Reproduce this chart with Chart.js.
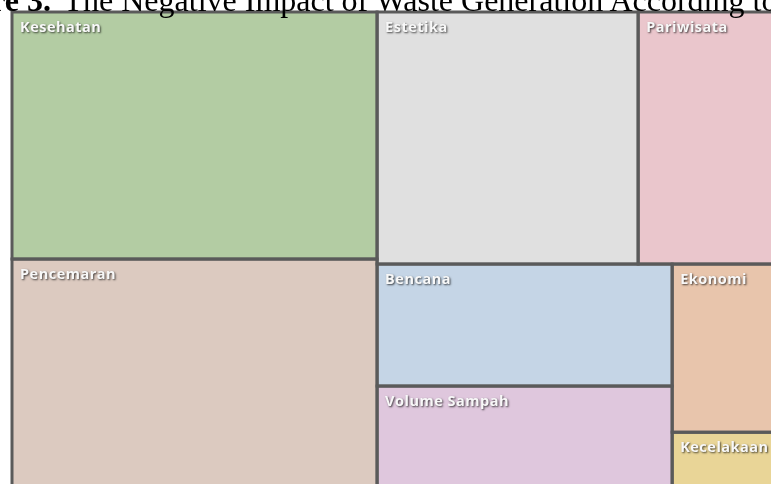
<!DOCTYPE html>
<html>
<head>
<meta charset="utf-8">
<script src="https://cdn.jsdelivr.net/npm/chart.js@4.4.1/dist/chart.umd.min.js"></script>
<style>
  html, body { margin: 0; padding: 0; background: #ffffff; overflow: hidden; width: 771px; height: 484px; }
  #wrap { position: absolute; left: 0; top: 0; width: 830px; height: 530px; }
  #caption {
    position: absolute; top: -16px; left: 0; white-space: nowrap;
    font-family: "Liberation Serif", "Times New Roman", serif; font-size: 32px; line-height: 32px;
    color: #000000; pointer-events: none;
  }
  #caption b { margin-right: 5px; }
</style>
</head>
<body>
<div id="wrap"><canvas id="chart"></canvas></div>
<div id="caption"><b>Figure 3.</b> <span id="capMain">The Negative Impact of Waste Generation According to</span></div>
<script>
/* data (relative tile sizes) */
const categories   = ['Kesehatan', 'Pencemaran', 'Estetika', 'Pariwisata', 'Bencana', 'Volume Sampah', 'Ekonomi', 'Kecelakaan'];
const impactValues = [90.2, 89.8, 65.8, 40.8, 36.0, 35.1, 21.5, 9.3];

/* tile colours */
const tileColors = ['#b3cca3', '#dccac0', '#e0e0e0', '#eac6cc', '#c5d5e6', '#dfc7dd', '#e8c5ac', '#e9d597'];

// place caption so "The" lands where it does in the picture
const cap = document.getElementById('caption');
cap.style.left = (63 - document.getElementById('capMain').offsetLeft) + 'px';

/* squarified layout (golden ratio variant), rects in fractions of the area */
function squarify(values, width, height) {
    const ratio = (1 + Math.sqrt(5)) / 2;
    const n = values.length;
    let value = values.reduce((a, b) => a + b, 0);
    let x0 = 0, y0 = 0, x1 = width, y1 = height;
    let i0 = 0, i1 = 0;
    const rects = [];
    while (i0 < n) {
        const dx = x1 - x0, dy = y1 - y0;
        let sumValue = values[i1++];
        let minV = sumValue, maxV = sumValue;
        const alpha = Math.max(dy / dx, dx / dy) / (value * ratio);
        let beta = sumValue * sumValue * alpha;
        let minRatio = Math.max(maxV / beta, beta / minV);
        for (; i1 < n; ++i1) {
            const v = values[i1];
            sumValue += v;
            const mn = Math.min(minV, v), mx = Math.max(maxV, v);
            beta = sumValue * sumValue * alpha;
            const newRatio = Math.max(mx / beta, beta / mn);
            if (newRatio > minRatio) { sumValue -= v; break; }
            minRatio = newRatio; minV = mn; maxV = mx;
        }
        if (dx < dy) {
            const yEnd = y0 + dy * sumValue / value;
            let x = x0;
            for (let k = i0; k < i1; k++) {
                const w = dx * values[k] / sumValue;
                rects[k] = { x0: x, y0: y0, x1: x + w, y1: yEnd };
                x += w;
            }
            y0 = yEnd;
        } else {
            const xEnd = x0 + dx * sumValue / value;
            let y = y0;
            for (let k = i0; k < i1; k++) {
                const h = dy * values[k] / sumValue;
                rects[k] = { x0: x0, y0: y, x1: xEnd, y1: y + h };
                y += h;
            }
            x0 = xEnd;
        }
        value -= sumValue;
        i0 = i1;
    }
    return rects.map(r => ({
        x0: r.x0 / width * 100, x1: r.x1 / width * 100,
        y0: r.y0 / height * 100, y1: r.y1 / height * 100
    }));
}

const treemapPlugin = {
    id: 'treemapTiles',
    afterDatasetsDraw (chart) {
        const ctx = chart.ctx;
        const area = chart.chartArea;
        const xs = chart.scales.x, ys = chart.scales.y;
        const rects = squarify(impactValues, area.right - area.left, area.bottom - area.top);

        ctx.save();
        rects.forEach((r, i) => {
            const left = xs.getPixelForValue(r.x0), right = xs.getPixelForValue(r.x1);
            const top = ys.getPixelForValue(r.y0), bottom = ys.getPixelForValue(r.y1);
            ctx.fillStyle = tileColors[i];
            ctx.fillRect(left, top, right - left, bottom - top);
        });
        ctx.strokeStyle = '#5a5a5a';
        ctx.lineWidth = 3;
        rects.forEach((r) => {
            const left = xs.getPixelForValue(r.x0), right = xs.getPixelForValue(r.x1);
            const top = ys.getPixelForValue(r.y0), bottom = ys.getPixelForValue(r.y1);
            ctx.strokeRect(left, top, right - left, bottom - top);
        });

        // labels
        ctx.font = '700 14.5px "Open Sans", "DejaVu Sans", sans-serif';
        if ('letterSpacing' in ctx) ctx.letterSpacing = '0.5px';
        ctx.textBaseline = 'alphabetic';
        ctx.textAlign = 'left';
        ctx.fillStyle = '#f8f8f8';
        ctx.shadowColor = 'rgba(0,0,0,0.7)';
        ctx.shadowOffsetX = 1;
        ctx.shadowOffsetY = 1;
        ctx.shadowBlur = 2;
        rects.forEach((r, i) => {
            const left = xs.getPixelForValue(r.x0);
            const top = ys.getPixelForValue(r.y0);
            ctx.fillText(categories[i], left + 8, top + 20);
        });
        ctx.restore();
    }
};

new Chart(document.getElementById('chart'), {
    type: 'scatter',
    data: {
        labels: categories,
        datasets: [{ label: 'Dampak', data: [], pointRadius: 0 }]
    },
    options: {
        responsive: true,
        maintainAspectRatio: false,
        animation: false,
        events: [],
        layout: { padding: { left: 12, top: 12, right: 30, bottom: 25 } },
        plugins: {
            legend: { display: false },
            tooltip: { enabled: false },
            title: { display: false }
        },
        scales: {
            x: { type: 'linear', min: 0, max: 100, display: false },
            y: { type: 'linear', min: 0, max: 100, reverse: true, display: false }
        }
    },
    plugins: [treemapPlugin]
});
</script>
</body>
</html>
